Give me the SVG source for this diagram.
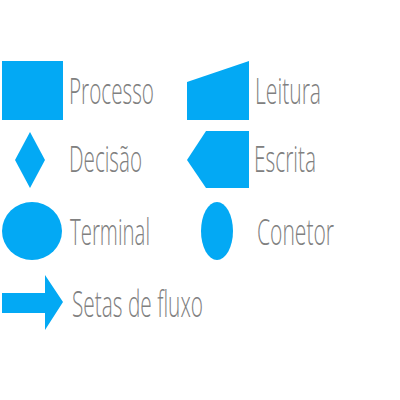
<svg xmlns="http://www.w3.org/2000/svg" width="400" height="400" viewBox="0 0 400 400">
<style>
.s{fill:#03A9F4;}
.t{fill:#808080;font-family:"Open Sans","Noto Sans",sans-serif;font-weight:300;font-size:37px;}
</style>
<rect width="400" height="400" fill="#ffffff"/>
<g id="processo"><rect class="s" x="2" y="61" width="61" height="59"/><text class="t" x="69" y="104" textLength="85" lengthAdjust="spacingAndGlyphs">Processo</text></g>
<g id="leitura"><polygon class="s" points="187,82 249,61 249,120 187,120"/><text class="t" x="255" y="104" textLength="66" lengthAdjust="spacingAndGlyphs">Leitura</text></g>
<g id="decisao"><polygon class="s" points="30,132 45,160 30,188 15,160"/><text class="t" x="69" y="172" textLength="73" lengthAdjust="spacingAndGlyphs">Decisão</text></g>
<g id="escrita"><polygon class="s" points="249,131 206,131 187,160 206,188 249,188"/><text class="t" x="254" y="172" textLength="62" lengthAdjust="spacingAndGlyphs">Escrita</text></g>
<g id="terminal"><ellipse class="s" cx="32" cy="231" rx="30" ry="29"/><text class="t" x="70" y="245" textLength="80" lengthAdjust="spacingAndGlyphs">Terminal</text></g>
<g id="conetor"><ellipse class="s" cx="217" cy="231" rx="16" ry="29"/><text class="t" x="257" y="245" textLength="77" lengthAdjust="spacingAndGlyphs">Conetor</text></g>
<g id="setas"><polygon class="s" points="2,293 45,293 45,275 63,302 45,330 45,313 2,313"/><text class="t" x="72" y="317" textLength="131" lengthAdjust="spacingAndGlyphs">Setas de fluxo</text></g>
<g id="connectors"></g>
</svg>
